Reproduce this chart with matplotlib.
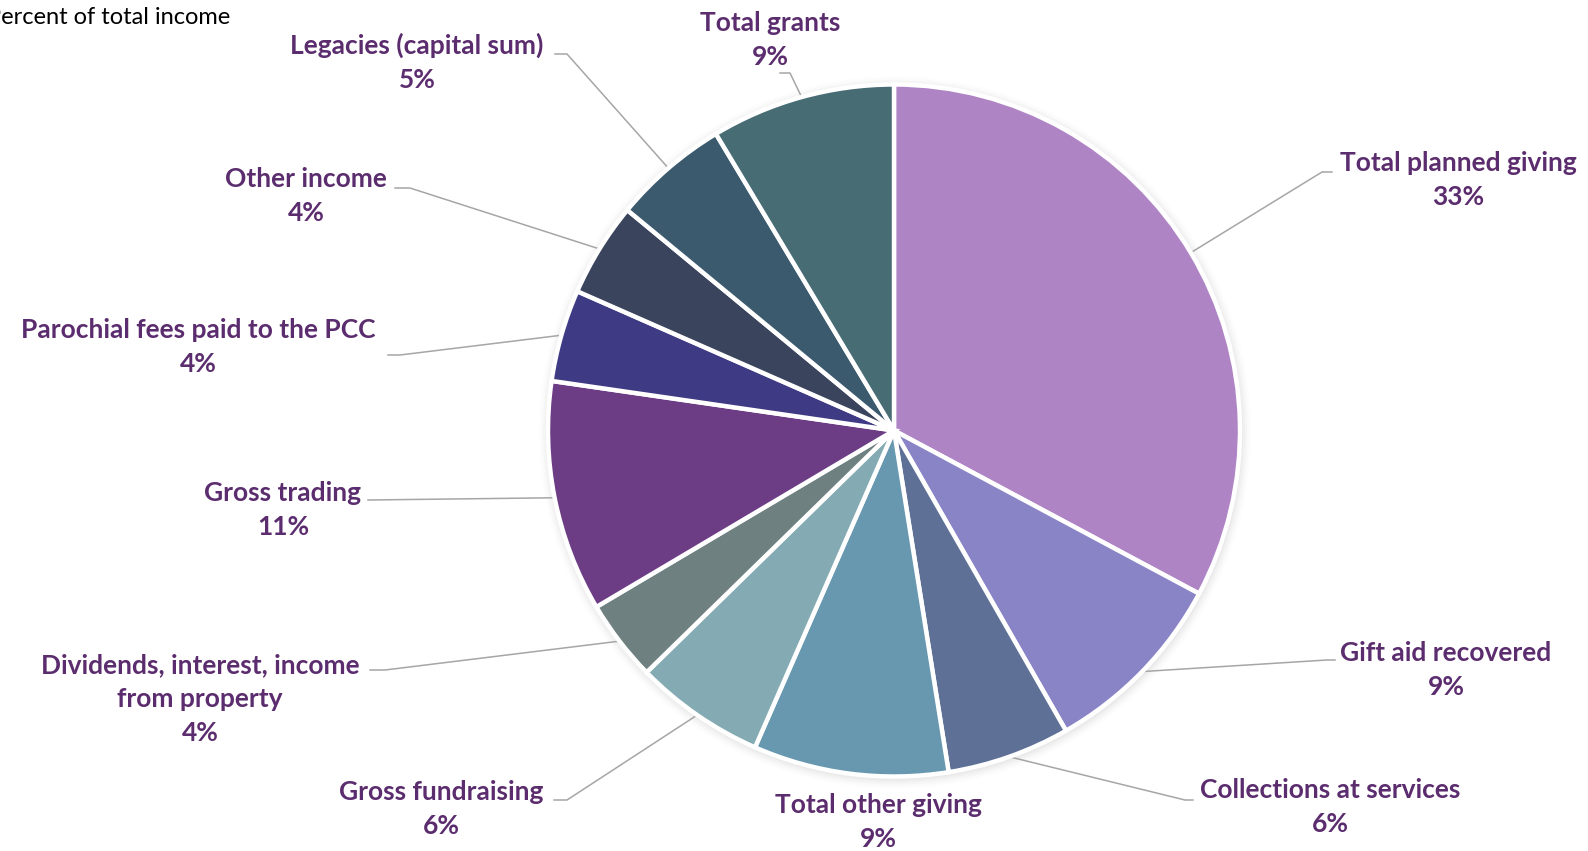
import numpy as np
import matplotlib.pyplot as plt
from matplotlib.patches import Circle

# Share of total income by source (percent)
categories = [
    "Total planned giving",
    "Gift aid recovered",
    "Collections at services",
    "Total other giving",
    "Gross fundraising",
    "Dividends, interest, income\nfrom property",
    "Gross trading",
    "Parochial fees paid to the PCC",
    "Other income",
    "Legacies (capital sum)",
    "Total grants",
]
shares = [32.8, 8.9, 5.75, 9.1, 6.1, 3.8, 10.8, 4.3, 4.4, 5.4, 8.6]
colors = [
    "#AE84C5", "#8984C5", "#5E7096", "#6798AF", "#84ABB3", "#6F8080",
    "#6C3D85", "#3F3A84", "#3A445C", "#3C5A6E", "#476C74",
]

LABEL_COLOR = "#5B2D6E"
LEADER_COLOR = "#A6A6A6"

W, H = 1588, 851
fig = plt.figure(figsize=(W / 100, H / 100), dpi=100)
ax = fig.add_axes([0, 0, 1, 1])

cx, cy, r = 894, H - 430.5, 346

# soft drop shadow around the pie
for i, a in enumerate([0.05, 0.04, 0.03, 0.02, 0.012]):
    ax.add_patch(Circle((cx + 1, cy - 2), r + 2 + 2 * i, color="#7F7F7F",
                        alpha=a, lw=0, zorder=0))

wedges, _ = ax.pie(
    shares, colors=colors, startangle=90, counterclock=False,
    center=(cx, cy), radius=r, frame=True,
    wedgeprops=dict(edgecolor="white", linewidth=3.2),
)
for w in wedges:
    w.set_zorder(2)

ax.set_xlim(0, W)
ax.set_ylim(0, H)
ax.set_aspect("equal")
ax.axis("off")

# label block centres and leader-line elbows (pixel layout, y measured from top)
label_pos = [
    (1458, 180), (1446, 670), (1330, 807), (878, 822), (441, 809),
    (200, 699), (283, 510), (198, 347), (306, 196), (417, 62), (770, 40),
]
elbows = [
    [(1322, 172), (1332, 172)],
    [(1327, 660), (1335, 660)],
    [(1185, 800), (1193, 800)],
    None,
    [(567, 800), (554, 800)],
    [(385, 670), (370, 670)],
    [(368, 500)],
    [(400, 355), (388, 355)],
    [(410, 188), (395, 188)],
    [(567, 54), (555, 54)],
    [(790, 73), (780, 73)],
]

for w, name, v, (lx, ly), elb in zip(wedges, categories, shares, label_pos, elbows):
    ax.text(lx, H - ly, f"{name}\n{v:.0f}%", ha="center", va="center",
            fontsize=19, fontweight="bold", family="Lato",
            color=LABEL_COLOR, linespacing=1.5, zorder=5)
    if elb is None:
        continue
    mid = np.deg2rad((w.theta1 + w.theta2) / 2)
    xs = [cx + r * np.cos(mid)] + [p[0] for p in elb]
    ys = [cy + r * np.sin(mid)] + [H - p[1] for p in elb]
    ax.plot(xs, ys, color=LEADER_COLOR, lw=1.1, zorder=1)

fig.text(-13 / W, 1 - 17 / H, "Percent of total income", ha="left", va="center",
         fontsize=17, family="Lato", color="black")

fig.savefig("out.png", dpi=100, facecolor="white")
